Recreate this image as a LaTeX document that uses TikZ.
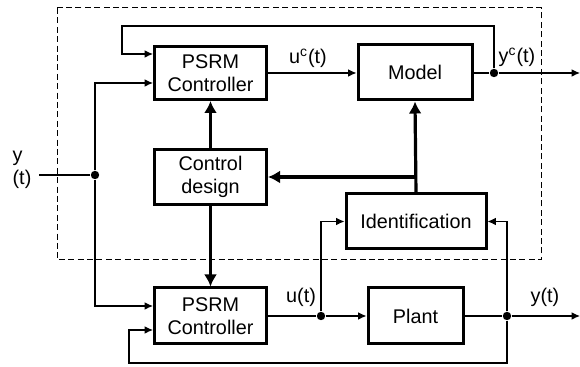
\documentclass[tikz,border=0pt]{standalone}
\usepackage{fontspec}
\setmainfont{Liberation Sans}
\usetikzlibrary{arrows.meta}

\begin{document}
\begin{tikzpicture}[x=.5pt, y=-.5pt,
	every node/.style={font=\fontsize{9.9}{11.6}\selectfont},
	blk/.style={draw, line width=1.5pt, align=center, inner sep=0pt, minimum width=56pt, minimum height=26.5pt},
	sig/.style={line width=.55pt, -{Latex[length=4.2pt, width=3.8pt]}},
	wire/.style={line width=.55pt},
	fat/.style={line width=1.6pt, -{Latex[length=6pt, width=6.5pt]}},
	dot/.style={circle, fill, inner sep=0pt, minimum size=4.2pt}]
	\useasboundingbox (0,0) rectangle (580,367);
	
	\draw[line width=.5pt, dash pattern=on 3pt off 1.7pt] (57,8) rectangle (541,260);
	
	\node[blk] (ctrlA) at (210.5,73){PSRM\\Controller};
	\node[blk, minimum width=57pt, minimum height=27.5pt] (model) at (415,72.5){Model};
	\node[blk, minimum height=27.5pt] (design) at (210.5,177){Control\\design};
	\node[blk, minimum width=70pt, minimum height=27.5pt] (ident) at (416,221.5){Identification};
	\node[blk, minimum height=28pt] (ctrlB) at (210.5,316){PSRM\\Controller};
	\node[blk, minimum width=47.5pt, minimum height=28pt] (plant) at (415.5,316){Plant};
	
	\node[dot] (bin) at (95,175){};
	\node[dot] (byc) at (494,73){};
	\node[dot] (bu) at (321,316){};
	\node[dot] (by) at (507,316){};
	\coordinate (in) at (39,175);
	\coordinate (outc) at (580,73);
	\coordinate (out) at (580,316);
	
	\node[align=left] (ylab) at (22,170){y\\(t)};
	\node (uclab) at (308,58){u\textsuperscript{c}(t)};
	\node (yclab) at (517,57){y\textsuperscript{c}(t)};
	\node (ulab) at (301,297){u(t)};
	\node (ylab2) at (545,297){y(t)};
	
	% model loop
	\draw[sig] (ctrlA.east) -- (model.west |- ctrlA.east);
	\draw[wire] (model.east |- byc) -- (byc);
	\draw[sig] (byc) -- (outc);
	\draw[sig] (byc) |- (122,26) |- ([yshift=9.5pt]ctrlA.west);
	
	% reference input
	\draw[wire] (in) -- (bin);
	\draw[sig] (bin) |- ([yshift=-5pt]ctrlA.west);
	\draw[sig] (bin) |- ([yshift=5pt]ctrlB.west);
	
	\draw[fat] (design.north) -- (ctrlA.south);
	\draw[fat] (design.south) -- (ctrlB.north);
	\draw[fat] (ident.north) -- (model.south);
	\draw[fat] (ident.north |- design.east) -- (design.east);
	
	% plant loop
	\draw[wire] (ctrlB.east) -- (bu);
	\draw[sig] (bu) -- (plant.west);
	\draw[sig] (bu) |- (ident.west);
	\draw[wire] (plant.east) -- (by);
	\draw[sig] (by) -- (out);
	\draw[sig] (by) |- (ident.east);
	\draw[sig] (by) -- (507,363) -| (129,330) -- ([yshift=-7pt]ctrlB.west);
\end{tikzpicture}
\end{document}
